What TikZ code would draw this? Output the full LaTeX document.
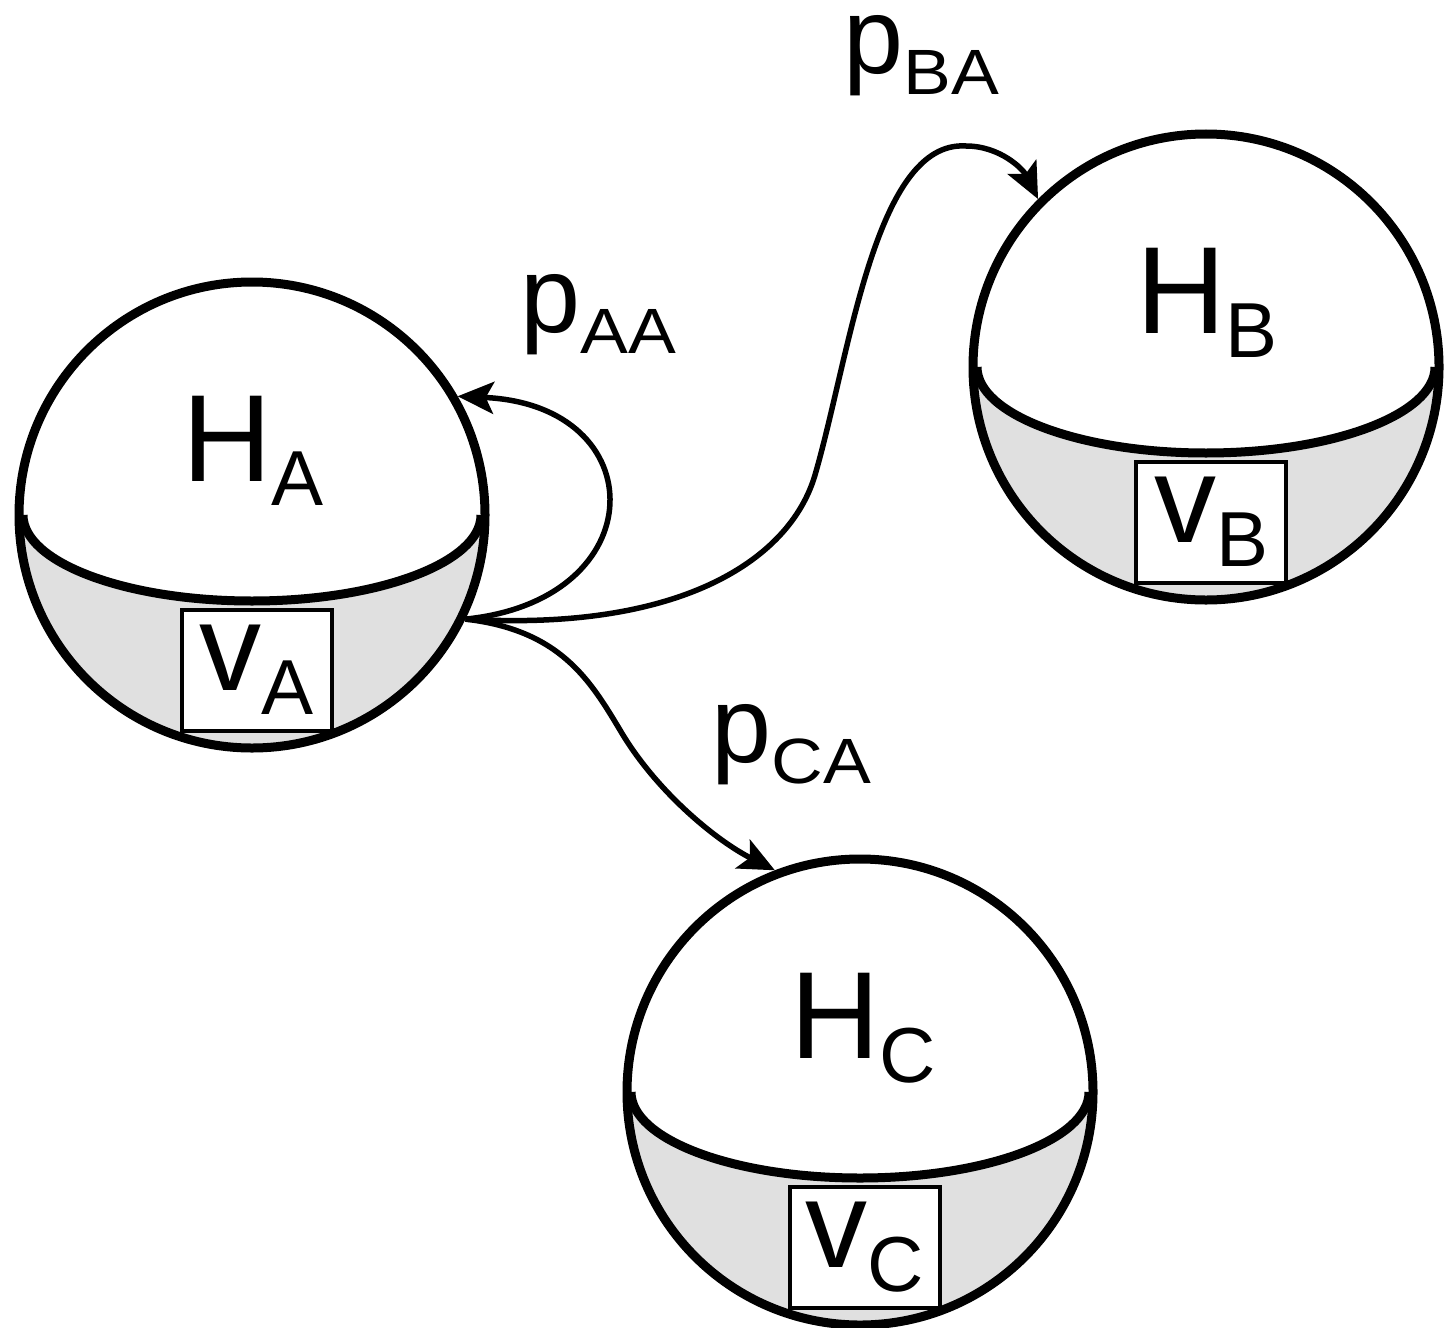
\documentclass[tikz,border=0pt]{standalone}
\usepackage{fontspec}
\setmainfont{Liberation Sans}
\usepackage{graphicx}
\usetikzlibrary{calc,arrows.meta}
\definecolor{shadegray}{RGB}{224,224,224}
\newcommand{\bigsub}[2]{{\fontsize{124pt}{124pt}\selectfont #1}\raisebox{-24pt}{\fontsize{78pt}{78pt}\selectfont #2}}
\newcommand{\psub}[1]{{\fontsize{108pt}{108pt}\selectfont p}\raisebox{-21pt}{\scalebox{1.12}[1]{\fontsize{64pt}{64pt}\selectfont #1}}}
\tikzset{
  ball/.style={circle, draw, line width=9pt, minimum size=466pt, inner sep=0pt},
  equator/.style={line width=9pt},
  vbox/.style={draw, line width=4pt, fill=white, minimum width=150pt, minimum height=121pt, inner sep=0pt},
  lab/.style={inner sep=0pt, anchor=base west},
  conn/.style={line width=5.5pt, -{Stealth[length=36pt,width=32pt,inset=8pt]}},
}
\newcommand{\mysphere}[4]{%
  \begin{scope}
    \clip (#2,#3) circle (233);
    \fill[shadegray] (#2-240,#3) -- (#2-229,#3) arc[start angle=180,end angle=360,x radius=229,y radius=86] -- (#2+240,#3) -- (#2+240,#3-240) -- (#2-240,#3-240) -- cycle;
  \end{scope}
  \draw[equator] (#2-229,#3) arc[start angle=180,end angle=360,x radius=229,y radius=86];
  \node[ball] (#1) at (#2,#3) {};
  \node[lab] (#1H) at (#2-70,#3+34) {\bigsub{H}{#4}};
  \node[vbox] (#1v) at (#2+5,#3-155) {\bigsub{v}{#4}};
}
\begin{document}
\begin{tikzpicture}[x=1pt,y=1pt]
  \useasboundingbox (0,0) rectangle (1450,-1327);
  \fill[white] (0,0) rectangle (1450,-1327);
  \mysphere{A}{252}{-515}{A}
  \mysphere{B}{1206}{-367}{B}
  \mysphere{C}{860}{-1092}{C}
  \draw[conn] (A.-26) .. controls (655,-600) and (655,-405) .. (A.30);
  \draw[conn] (A.-26) .. controls (680,-632) and (790,-560) .. (815,-475)
     .. controls (850,-355) and (875,-140) .. (966,-146)
     .. controls (1000,-146) and (1023,-169) .. (B.135);
  \draw[conn] (A.-26) .. controls (560,-630) and (590,-680) .. (620,-730)
     .. controls (655,-790) and (715,-840) .. (C.111);
  \node[lab] (pAA) at (520,-332) {\psub{AA}};
  \node[lab] (pBA) at (843,-74) {\psub{BA}};
  \node[lab] (pCA) at (711,-762) {\psub{CA}};
\end{tikzpicture}
\end{document}
